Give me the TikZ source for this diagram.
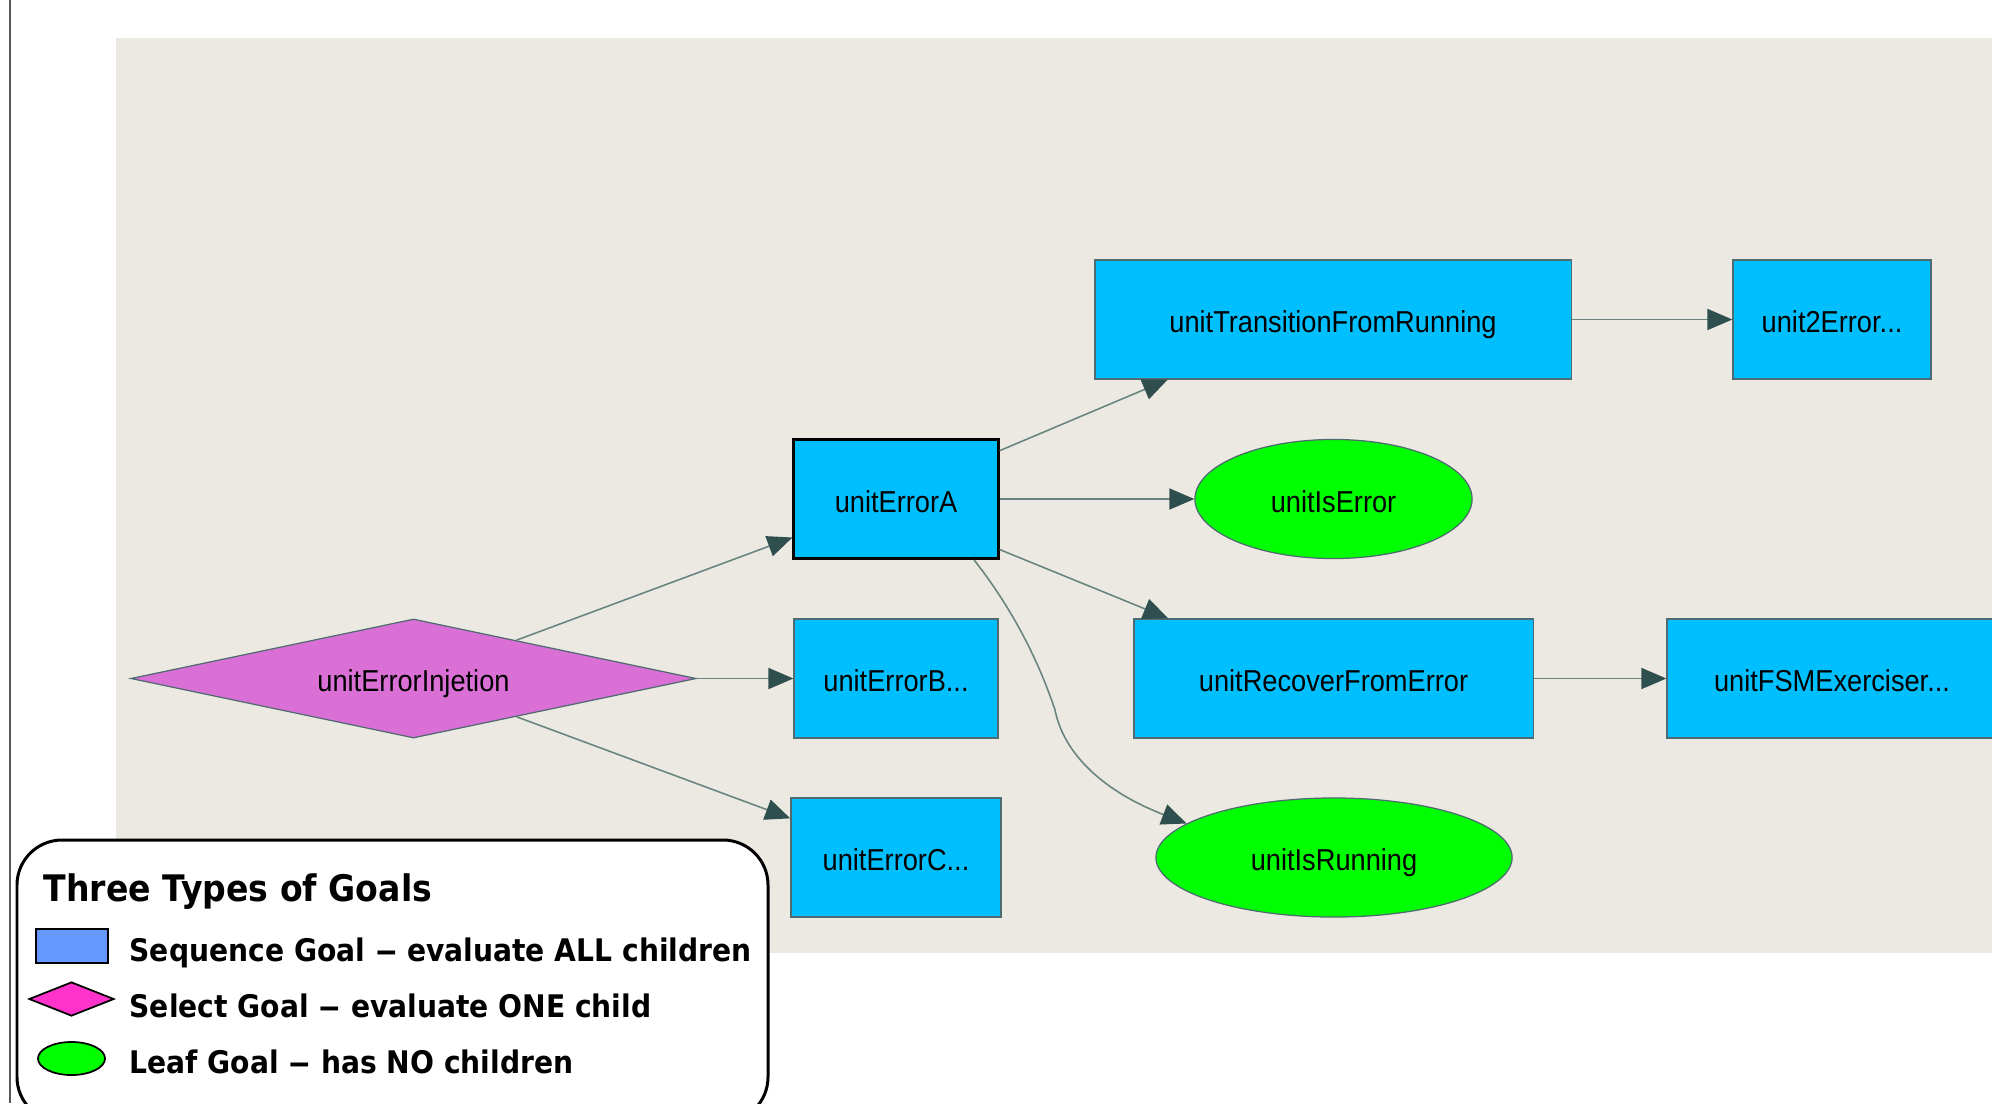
\documentclass[tikz,border=0pt]{standalone}
\usepackage{fontspec}
\usepackage{graphicx}
\usetikzlibrary{shapes.geometric,arrows.meta}
\newfontfamily\nodefont{Liberation Sans}[FakeStretch=0.9]
\newfontfamily\legendfont{DejaVu Sans}[FakeStretch=0.905]
\newcommand\keydash{\scalebox{1.6}[1]{–}}
\definecolor{canvas}{HTML}{ECE9E2}
\definecolor{seqblue}{HTML}{00BFFF}
\definecolor{selpink}{HTML}{DA70D6}
\definecolor{leafgreen}{HTML}{00FF00}
\definecolor{rimgray}{HTML}{4F6A70}
\definecolor{linkgray}{HTML}{6A8480}
\definecolor{tipgray}{HTML}{2F4F4F}
\definecolor{keyblue}{HTML}{6699FF}
\definecolor{keypink}{HTML}{FF33CC}

\begin{document}
\begin{tikzpicture}[x=0.01cm, y=-0.01cm,
    goal/.style={draw=rimgray, line width=0.35pt, inner sep=0pt, minimum height=1.19cm,
      text height=0.266cm, text depth=0pt, font=\nodefont\fontsize{8.6}{10}\selectfont},
    seqgoal/.style={goal, rectangle, fill=seqblue},
    selgoal/.style={goal, diamond, fill=selpink, aspect=4.75},
    leafgoal/.style={goal, ellipse, fill=leafgreen},
    link/.style={draw=linkgray, line width=0.45pt, -{Triangle[length=7.1pt, width=6pt, color=tipgray]}},
    keytext/.style={anchor=base west, inner sep=0pt, font=\legendfont\bfseries\fontsize{8.85}{10}\selectfont}]
        \useasboundingbox (0,0) rectangle (1992,1103);
        \fill[canvas] (115.5,38) rectangle (1992,953);
        \draw[line width=0.5pt, gray!70!black] (10,0) -- (10,1103);

        % goal tree
        \node[selgoal, minimum width=5.65cm] (errInj) at (413.5,678.5) {unitErrorInjetion};
        \node[seqgoal, minimum width=2.04cm, draw=black, line width=0.85pt] (errA) at (896,499) {unitErrorA};
        \node[seqgoal, minimum width=2.04cm] (errB) at (896,678.5) {unitErrorB...};
        \node[seqgoal, minimum width=2.10cm] (errC) at (896,857.5) {unitErrorC...};
        \node[seqgoal, minimum width=4.76cm] (transRun) at (1333,319.5) {unitTransitionFromRunning};
        \node[seqgoal, minimum width=1.98cm] (twoErr) at (1832,319.5) {unit2Error...};
        \node[leafgoal, minimum width=2.77cm] (isError) at (1333.5,499) {unitIsError};
        \node[seqgoal, minimum width=3.99cm] (recover) at (1333.5,678.5) {unitRecoverFromError};
        \node[seqgoal, minimum width=3.30cm] (fsm) at (1832,678.5) {unitFSMExerciser...};
        \node[leafgoal, minimum width=3.56cm] (isRun) at (1334,857.5) {unitIsRunning};

        \draw[link] (errInj) -- (errA);
        \draw[link] (errInj) -- (errB);
        \draw[link] (errInj) -- (errC);
        \draw[link] (errA.25) -- (transRun.200);
        \draw[link] (errA) -- (isError);
        \draw[link] (errA.-26) -- (recover.160);
        \draw[link] (errA.-38) .. controls (1015,612) and (1040,665) .. (1055,710)
          .. controls (1064,755) and (1105,792) .. (isRun.167);
        \draw[link] (transRun) -- (twoErr);
        \draw[link] (recover) -- (fsm);

        % legend
        \draw[line width=0.85pt, fill=white, rounded corners=0.45cm] (17,840) rectangle (768,1122);
        \node[keytext, font=\legendfont\bfseries\fontsize{10.4}{12}\selectfont] (keyTitle) at (43,901) {Three Types of Goals};
        \node[rectangle, draw, line width=0.5pt, fill=keyblue, inner sep=0pt,
          minimum width=0.72cm, minimum height=0.34cm] (keySeq) at (72,946) {};
        \node[diamond, draw, line width=0.5pt, fill=keypink, inner sep=0pt, aspect=2.5,
          minimum width=0.85cm, minimum height=0.34cm] (keySel) at (71.5,999) {};
        \node[ellipse, draw, line width=0.5pt, fill=leafgreen, inner sep=0pt,
          minimum width=0.67cm, minimum height=0.33cm] (keyLeaf) at (71.5,1058.5) {};
        \node[keytext] (keySeqText) at (129,961) {Sequence Goal \keydash{} evaluate ALL children};
        \node[keytext] (keySelText) at (129,1017) {Select Goal \keydash{} evaluate ONE child};
        \node[keytext] (keyLeafText) at (129,1073) {Leaf Goal \keydash{} has NO children};
    \end{tikzpicture}
\end{document}
